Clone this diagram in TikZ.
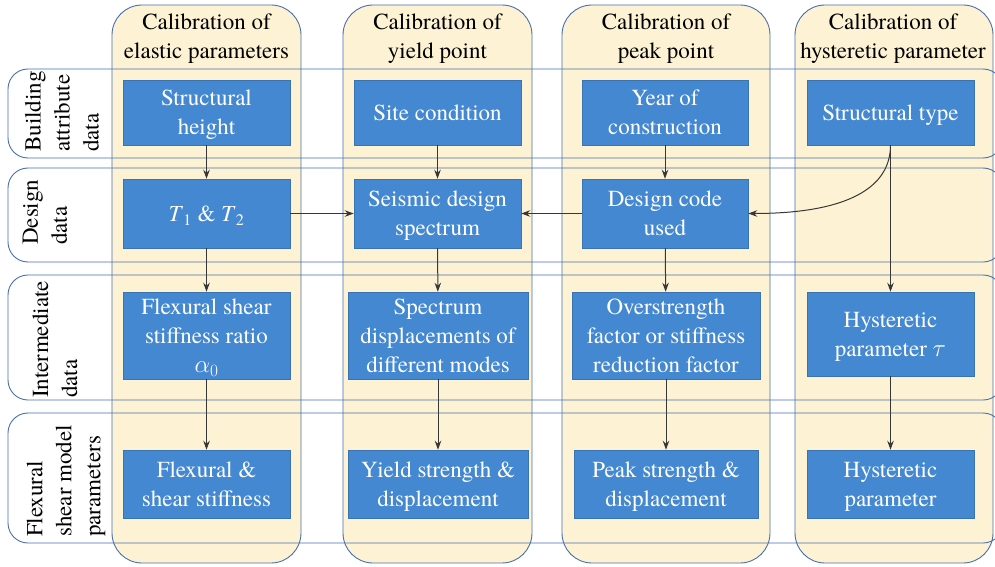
\documentclass[tikz,border=0pt]{standalone}
\usepackage{fontspec}
\setmainfont{texgyretermes}[
  Extension=.otf,
  UprightFont=*-regular,
  ItalicFont=*-italic,
  BoldFont=*-bold,
  BoldItalicFont=*-bolditalic]
\usetikzlibrary{arrows.meta}
\definecolor{cream}{RGB}{253,243,212}
\definecolor{boxblue}{RGB}{67,136,208}
\definecolor{frameblue}{RGB}{72,110,175}
\definecolor{arrowgray}{RGB}{55,55,55}

\begin{document}
\begin{tikzpicture}[x=1pt,y=-1pt,
  lane/.style={draw=frameblue, line width=0.9pt, rounded corners=30pt, fill=cream},
  band/.style={draw=frameblue, line width=0.9pt, rounded corners=20pt},
  stepbox/.style={fill=boxblue, draw=boxblue!85!black, line width=0.5pt, text=white,
    align=center, inner sep=0pt, text depth=0pt, font=\fontsize{23}{29}\selectfont},
  head/.style={align=center, inner sep=0pt, font=\fontsize{23}{29}\selectfont},
  rowlabel/.style={rotate=90, align=left, anchor=west, inner sep=0pt,
    font=\fontsize{23}{29}\selectfont},
  arr/.style={draw=arrowgray, line width=1pt, -{Stealth[length=9pt,width=6.5pt]}}
]
\useasboundingbox (0,0) rectangle (995,567);
\clip (0,0) rectangle (995,567);

% calibration lanes (columns)
\draw[lane] (112,5) rectangle (301,563);
\draw[lane] (343,5) rectangle (532,563);
\draw[lane] (562,5) rectangle (770,563);
\draw[lane] (795,5) rectangle (993,563);

% data bands (rows)
\draw[band] (8,69) rectangle (1003,158);
\draw[band] (8,168) rectangle (1003,262);
\draw[band] (8,275) rectangle (1003,400);
\draw[band] (8,413) rectangle (1003,543);

% lane headers
\node[head] (h1) at (206.5,39) {Calibration of\\elastic parameters};
\node[head] (h2) at (437.5,39) {Calibration of\\yield point};
\node[head] (h3) at (666,39) {Calibration of\\peak point};
\node[head] (h4) at (893,39) {Calibration of\\hysteretic parameter};

% band labels
\node[rowlabel] (r1) at (62,152) {Building\\attribute\\data};
\node[rowlabel] (r2) at (45,245) {Design\\data};
\node[rowlabel] (r3) at (55,398) {Intermediate\\data};
\node[rowlabel] (r4) at (66,537) {Flexural\\shear model\\parameters};

% elastic parameters
\node[stepbox, minimum width=167, minimum height=65] (sh) at (206.5,112.5) {Structural\\height};
\node[stepbox, minimum width=167, minimum height=69] (t12) at (206.5,213.5)
  {\textit{T}\textsubscript{1} \& \textit{T}\textsubscript{2}};
\node[stepbox, minimum width=167, minimum height=87] (a0) at (206.5,335.5)
  {Flexural shear\\stiffness ratio\\$\alpha_0$};
\node[stepbox, minimum width=167, minimum height=68] (fs) at (206.5,484) {Flexural \&\\shear stiffness};

% yield point
\node[stepbox, minimum width=167, minimum height=65] (sc) at (437.5,112.5) {Site condition};
\node[stepbox, minimum width=167, minimum height=69] (sds) at (437.5,213.5) {Seismic design\\spectrum};
\node[stepbox, minimum width=180, minimum height=87] (spd) at (438,335.5)
  {Spectrum\\displacements of\\different modes};
\node[stepbox, minimum width=180, minimum height=68] (ys) at (438,484) {Yield strength \&\\displacement};

% peak point
\node[stepbox, minimum width=166, minimum height=65] (yc) at (665,112.5) {Year of\\construction};
\node[stepbox, minimum width=166, minimum height=69] (dcu) at (665,213.5) {Design code\\used};
\node[stepbox, minimum width=188, minimum height=87] (osf) at (666,335.5)
  {Overstrength\\factor or stiffness\\reduction factor};
\node[stepbox, minimum width=184, minimum height=68] (ps) at (666,484) {Peak strength \&\\displacement};

% hysteretic parameter
\node[stepbox, minimum width=167, minimum height=65] (st) at (890.5,112.5) {Structural type};
\node[stepbox, minimum width=167, minimum height=84] (tau) at (890.5,334)
  {Hysteretic\\parameter $\tau$};
\node[stepbox, minimum width=167, minimum height=68] (hp) at (890.5,484) {Hysteretic\\parameter};

% connectors
\draw[arr] (sh) -- (t12);
\draw[arr] (t12) -- (a0);
\draw[arr] (a0) -- (fs);
\draw[arr] (sc) -- (sds);
\draw[arr] (sds) -- (spd);
\draw[arr] (spd) -- (ys);
\draw[arr] (yc) -- (dcu);
\draw[arr] (dcu) -- (osf);
\draw[arr] (osf) -- (ps);
\draw[arr] (st) -- (tau);
\draw[arr] (tau) -- (hp);
\draw[arr] (t12.east) -- (sds.west);
\draw[arr] (dcu.west) -- (sds.east);
\draw[arr] (st.south) .. controls ([yshift=-42pt]st.south) and ([xshift=100pt]dcu.east) .. (dcu.east);
\end{tikzpicture}
\end{document}
